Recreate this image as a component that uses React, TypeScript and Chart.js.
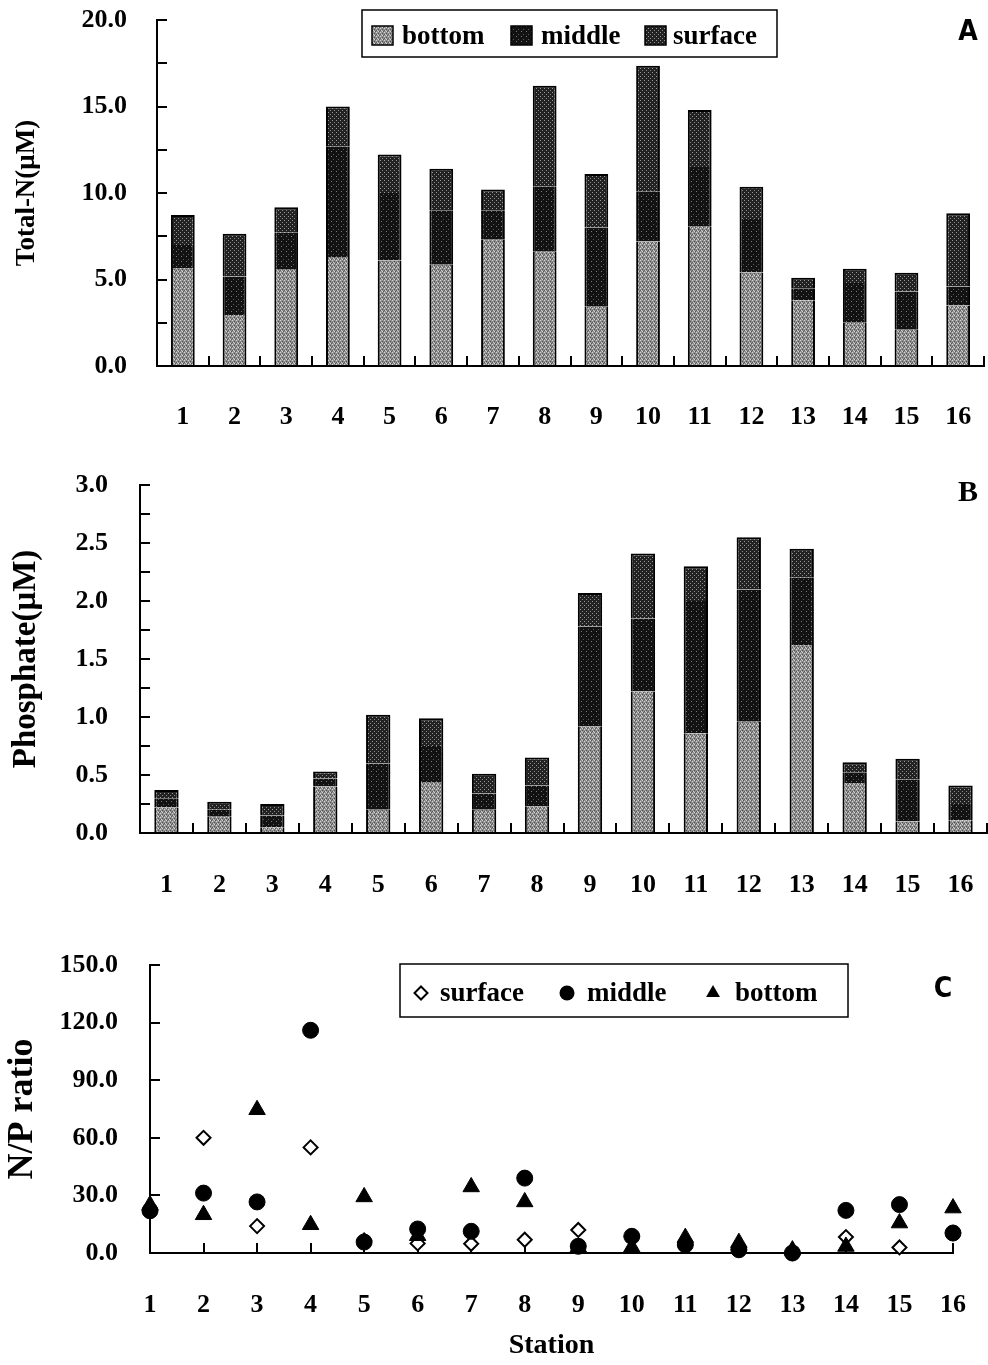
import React, { useEffect, useRef } from 'react';
import { Chart, registerables } from 'chart.js';

Chart.register(...registerables);

// ---------- data ----------
const stations = ['1', '2', '3', '4', '5', '6', '7', '8', '9', '10', '11', '12', '13', '14', '15', '16'];
const stationNums = [1, 2, 3, 4, 5, 6, 7, 8, 9, 10, 11, 12, 13, 14, 15, 16];

// Panel A: Total-N (µM), stacked
const totalNBottom = [5.66, 2.95, 5.6, 6.3, 6.1, 5.85, 7.3, 6.6, 3.43, 7.2, 8.05, 5.4, 3.8, 2.5, 2.1, 3.5];
const totalNMiddle = [1.34, 2.22, 2.1, 6.37, 3.9, 3.15, 1.7, 3.76, 4.57, 2.9, 3.45, 3.1, 0.7, 2.3, 2.2, 1.1];
const totalNSurface = [1.73, 2.48, 1.47, 2.33, 2.23, 2.4, 1.2, 5.84, 3.1, 7.26, 3.3, 1.86, 0.6, 0.82, 1.09, 4.23];

// Panel B: Phosphate (µM), stacked
const phosBottom = [0.22, 0.14, 0.05, 0.4, 0.2, 0.44, 0.2, 0.23, 0.92, 1.22, 0.86, 0.96, 1.62, 0.43, 0.1, 0.11];
const phosMiddle = [0.08, 0.06, 0.1, 0.07, 0.4, 0.31, 0.14, 0.18, 0.86, 0.63, 1.14, 1.14, 0.58, 0.09, 0.36, 0.14];
const phosSurface = [0.07, 0.07, 0.1, 0.06, 0.42, 0.24, 0.17, 0.24, 0.29, 0.56, 0.3, 0.45, 0.25, 0.09, 0.18, 0.16];

// Panel C: N/P ratio
const npSurface = [22, 60, 14, 55, 6.5, 5, 4.8, 6.9, 12, 8.7, 4.3, 1.7, 0, 8.3, 2.9, 10.4];
const npMiddle = [22, 31.2, 26.6, 116, 5.7, 12.5, 11.3, 39, 3.5, 8.7, 4.3, 1.7, 0, 22.2, 25.2, 10.4];
const npBottom = [25, 19.9, 74.6, 14.7, 29.2, 9, 34.4, 26.6, 3, 3, 8, 5.4, 1.5, 3.4, 15.6, 23.4];

const layerLabels = ['bottom', 'middle', 'surface'];
const totalNTitle = 'Total-N(\u03BCM)';
const phosTitle = 'Phosphate(\u03BCM)';
const npTitle = 'N/P ratio';
const stationTitle = 'Station';

// ---------- styling ----------
const SERIF = "'Liberation Serif', 'Times New Roman', serif";
const SANS_C = "'DejaVu Sans Condensed', 'DejaVu Sans', sans-serif";
const TICK_FONT = { family: SERIF, size: 26, weight: 'bold' as const };

function makePattern(size: number, base: string, dots: [number, number, string][]) {
  const c = document.createElement('canvas');
  c.width = size;
  c.height = size;
  const g = c.getContext('2d')!;
  g.fillStyle = base;
  g.fillRect(0, 0, size, size);
  dots.forEach(([x, y, col]) => {
    g.fillStyle = col;
    g.fillRect(x, y, 1, 1);
  });
  return g.createPattern(c, 'repeat') as CanvasPattern;
}

function getPatterns() {
  return {
    bottom: makePattern(4, '#8e8e8e', [
      [0, 0, '#d4d4d4'], [2, 1, '#505050'], [1, 2, '#cccccc'], [3, 3, '#555555'], [2, 3, '#d6d6d6'], [0, 2, '#5c5c5c'],
    ]),
    middle: makePattern(5, '#121212', [[1, 1, '#7a7a7a'], [3, 4, '#5a5a5a']]),
    surface: makePattern(4, '#222222', [[0, 0, '#9a9a9a'], [2, 2, '#8a8a8a']]),
  };
}

function drawMarker(ctx: CanvasRenderingContext2D, style: string, x: number, y: number, r: number) {
  ctx.beginPath();
  if (style === 'circle') {
    ctx.arc(x, y, r, 0, Math.PI * 2);
    ctx.fillStyle = '#000';
    ctx.fill();
  } else if (style === 'triangle') {
    ctx.moveTo(x, y - r);
    ctx.lineTo(x + r * 0.866, y + r * 0.5);
    ctx.lineTo(x - r * 0.866, y + r * 0.5);
    ctx.closePath();
    ctx.fillStyle = '#000';
    ctx.fill();
  } else {
    ctx.moveTo(x, y - r);
    ctx.lineTo(x + r, y);
    ctx.lineTo(x, y + r);
    ctx.lineTo(x - r, y);
    ctx.closePath();
    ctx.fillStyle = '#fff';
    ctx.fill();
    ctx.lineWidth = 2;
    ctx.strokeStyle = '#000';
    ctx.stroke();
  }
}

const overlayPlugin = {
  id: 'overlay',
  afterDraw(chart: any, _args: any, opts: any) {
    const ctx: CanvasRenderingContext2D = chart.ctx;
    ctx.save();
    const lg = opts.legend;
    if (lg) {
      const [l, t, r, b] = lg.box;
      ctx.fillStyle = '#fff';
      ctx.fillRect(l, t, r - l, b - t);
      ctx.lineWidth = 1.5;
      ctx.strokeStyle = '#000';
      ctx.strokeRect(l, t, r - l, b - t);
      ctx.font = `bold ${lg.fontSize}px ${SERIF}`;
      ctx.textBaseline = 'middle';
      ctx.textAlign = 'left';
      lg.items.forEach((it: any) => {
        const ds = chart.data.datasets[it.dataset];
        const cy = lg.y;
        if (lg.kind === 'swatch') {
          ctx.fillStyle = ds.backgroundColor;
          ctx.fillRect(it.x, cy - 10, 21, 19);
          ctx.lineWidth = 1.5;
          ctx.strokeStyle = '#000';
          ctx.strokeRect(it.x, cy - 10, 21, 19);
        } else {
          drawMarker(ctx, ds.pointStyle, it.x, cy, it.r);
        }
        ctx.fillStyle = '#000';
        ctx.fillText(ds.label, it.tx, cy + 1);
      });
    }
    const lt = opts.letter;
    if (lt) {
      ctx.font = lt.font;
      ctx.fillStyle = '#000';
      ctx.textAlign = 'center';
      ctx.textBaseline = 'middle';
      ctx.fillText(lt.text, lt.x, lt.y);
    }
    ctx.restore();
  },
};

function isMultiple(v: number, m: number) {
  const q = v / m;
  return Math.abs(q - Math.round(q)) < 1e-6;
}

function noPad(s: any) {
  s.paddingTop = 0;
  s.paddingBottom = 0;
  s.paddingLeft = 0;
  s.paddingRight = 0;
}

function barConfig(p: any) {
  const pats = getPatterns();
  const common = { borderColor: '#000', borderSkipped: false as const, barPercentage: 0.46, categoryPercentage: 1 };
  return {
    type: 'bar' as const,
    data: {
      labels: stations,
      datasets: [
        { ...common, label: layerLabels[0], data: p.bottom, backgroundColor: pats.bottom, borderWidth: { left: 2, right: 2, top: 0, bottom: 0 } },
        { ...common, label: layerLabels[1], data: p.middle, backgroundColor: pats.middle, borderWidth: { left: 2, right: 2, top: 0, bottom: 0 } },
        { ...common, label: layerLabels[2], data: p.surface, backgroundColor: pats.surface, borderWidth: { left: 2, right: 2, top: 2, bottom: 0 } },
      ],
    },
    options: {
      animation: false as const,
      responsive: false,
      maintainAspectRatio: false,
      events: [],
      layout: { padding: p.padding },
      plugins: { legend: { display: false }, tooltip: { enabled: false }, overlay: { legend: p.legend, letter: p.letter } },
      scales: {
        x: {
          stacked: true,
          offset: true,
          grid: { offset: true, drawOnChartArea: false, color: '#000', lineWidth: 2, tickLength: -10, drawTicks: true },
          border: { color: '#000', width: 2 },
          ticks: { color: '#000', font: TICK_FONT, padding: p.xPad, maxRotation: 0, autoSkip: false },
          afterFit: (s: any) => { s.height = 60; noPad(s); },
        },
        y: {
          stacked: true,
          min: 0,
          max: p.yMax,
          grid: { drawOnChartArea: false, color: '#000', lineWidth: 2, tickLength: -10, drawTicks: true },
          border: { color: '#000', width: 2 },
          ticks: {
            stepSize: p.step,
            autoSkip: false,
            color: '#000',
            font: TICK_FONT,
            padding: p.yPad,
            callback: (v: any) => (isMultiple(Number(v), p.labelStep) ? Number(v).toFixed(1) : ''),
          },
          title: {
            display: true,
            text: p.title,
            color: '#000',
            font: { family: SERIF, size: p.titleSize, weight: 'bold' as const },
            padding: { top: p.titlePad, bottom: 0 },
          },
          afterFit: (s: any) => { s.width = p.axisWidth; noPad(s); },
        },
      },
    },
    plugins: [overlayPlugin],
  };
}

function pts(vals: number[]) {
  return stationNums.map((s, i) => ({ x: s, y: vals[i] }));
}

function scatterConfig() {
  const base = { showLine: false, clip: false as const, pointBorderColor: '#000' };
  return {
    type: 'scatter' as const,
    data: {
      datasets: [
        { ...base, label: 'surface', data: pts(npSurface), pointStyle: 'rectRot', pointRadius: 7, pointBackgroundColor: '#fff', pointBorderWidth: 2, backgroundColor: '#fff', order: 2 },
        { ...base, label: 'middle', data: pts(npMiddle), pointStyle: 'circle', pointRadius: 8, pointBackgroundColor: '#000', pointBorderWidth: 1, backgroundColor: '#000', order: 1 },
        { ...base, label: 'bottom', data: pts(npBottom), pointStyle: 'triangle', pointRadius: 9.5, pointBackgroundColor: '#000', pointBorderWidth: 1, backgroundColor: '#000', order: 0 },
      ],
    },
    options: {
      animation: false as const,
      responsive: false,
      maintainAspectRatio: false,
      events: [],
      layout: { padding: { top: 35, left: 0, right: 35, bottom: 2 } },
      plugins: {
        legend: { display: false },
        tooltip: { enabled: false },
        overlay: {
          legend: {
            kind: 'marker',
            box: [400, 34, 848, 87],
            y: 63,
            fontSize: 27,
            items: [
              { dataset: 0, x: 421, r: 6.5, tx: 440 },
              { dataset: 1, x: 567, r: 7.5, tx: 587 },
              { dataset: 2, x: 713, r: 8, tx: 735 },
            ],
          },
          letter: { text: 'C', x: 943, y: 60, font: `bold 28px ${SANS_C}` },
        },
      },
      scales: {
        x: {
          type: 'linear' as const,
          min: 1,
          max: 16,
          grid: { drawOnChartArea: false, color: '#000', lineWidth: 2, tickLength: -10, drawTicks: true },
          border: { color: '#000', width: 2 },
          ticks: { stepSize: 1, autoSkip: false, color: '#000', font: TICK_FONT, padding: 47, maxRotation: 0, callback: (v: any) => String(v) },
          title: { display: true, text: stationTitle, color: '#000', font: { family: SERIF, size: 28, weight: 'bold' as const }, padding: { top: 0, bottom: 0 } },
          afterFit: (s: any) => { s.height = 110; noPad(s); },
        },
        y: {
          min: 0,
          max: 150,
          grid: { drawOnChartArea: false, color: '#000', lineWidth: 2, tickLength: -10, drawTicks: true },
          border: { color: '#000', width: 2 },
          ticks: { stepSize: 30, autoSkip: false, color: '#000', font: TICK_FONT, padding: 42, callback: (v: any) => Number(v).toFixed(1) },
          title: { display: true, text: npTitle, color: '#000', font: { family: SERIF, size: 36, weight: 'bold' as const }, padding: { top: 1, bottom: 0 } },
          afterFit: (s: any) => { s.width = 150; noPad(s); },
        },
      },
    },
    plugins: [overlayPlugin],
  };
}

function ChartCanvas({ top, height, build }: { top: number; height: number; build: () => any }) {
  const ref = useRef<HTMLCanvasElement>(null);
  useEffect(() => {
    const chart = new Chart(ref.current as HTMLCanvasElement, build());
    return () => chart.destroy();
  }, []);
  return (
    <canvas
      ref={ref}
      width={988}
      height={height}
      style={{ position: 'absolute', left: 0, top, width: 988, height, display: 'block' }}
    />
  );
}

export default function App() {
  return (
    <div style={{ position: 'absolute', left: 0, top: 0, width: 988, height: 1365, background: '#fff', overflow: 'hidden' }}>
      <ChartCanvas
        top={0}
        height={445}
        build={() =>
          barConfig({
            bottom: totalNBottom,
            middle: totalNMiddle,
            surface: totalNSurface,
            yMax: 20,
            step: 2.5,
            labelStep: 5,
            title: totalNTitle,
            titleSize: 27,
            titlePad: 11,
            axisWidth: 157,
            yPad: 40,
            xPad: 46,
            padding: { top: 20, left: 0, right: 4, bottom: 19 },
            legend: {
              kind: 'swatch',
              box: [362, 10, 777, 57],
              y: 36,
              fontSize: 27,
              items: [
                { dataset: 0, x: 372, tx: 402 },
                { dataset: 1, x: 511, tx: 541 },
                { dataset: 2, x: 645, tx: 673 },
              ],
            },
            letter: { text: 'A', x: 968, y: 33, font: `bold 28px ${SANS_C}` },
          })
        }
      />
      <ChartCanvas
        top={445}
        height={485}
        build={() =>
          barConfig({
            bottom: phosBottom,
            middle: phosMiddle,
            surface: phosSurface,
            yMax: 3,
            step: 0.25,
            labelStep: 0.5,
            title: phosTitle,
            titleSize: 33,
            titlePad: 7,
            axisWidth: 140,
            yPad: 42,
            xPad: 47,
            padding: { top: 40, left: 0, right: 1, bottom: 37 },
            legend: null,
            letter: { text: 'B', x: 968, y: 48, font: `bold 30px ${SERIF}` },
          })
        }
      />
      <ChartCanvas top={930} height={435} build={scatterConfig} />
    </div>
  );
}
